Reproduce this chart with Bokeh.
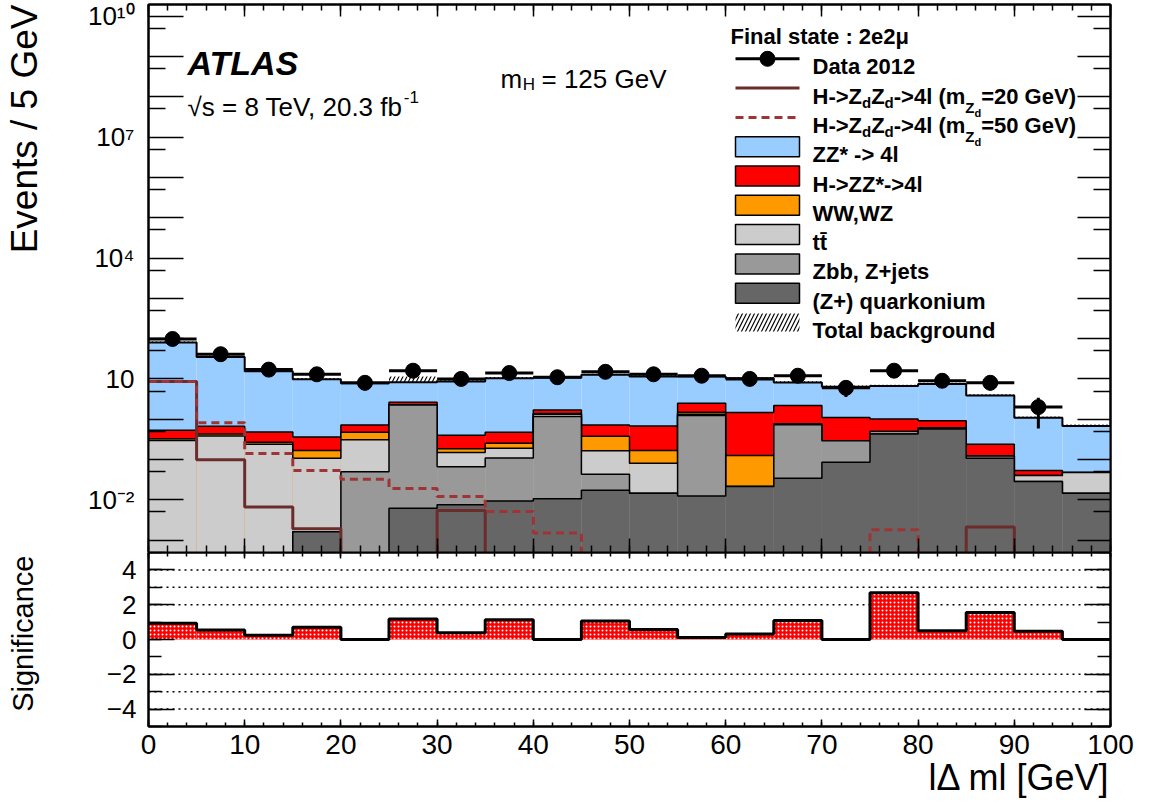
import numpy as np
from bokeh.plotting import figure
from bokeh.models import (Range1d, SingleIntervalTicker, FixedTicker, LinearAxis, LogAxis,
                          CustomJSTickFormatter, Label, Title)
from bokeh.layouts import column
from bokeh.embed import file_html
from bokeh.resources import INLINE

# ---------------- data ----------------
bin_edges = [0, 5, 10, 15, 20, 25, 30, 35, 40, 45, 50, 55, 60, 65, 70, 75, 80, 85, 90, 95, 100]
data_2012 = [98, 41, 17, 13, 8, 16, 10, 14, 11, 15, 13, 12, 10, 12, 6, 16, 9, 8, 2, 0]
bkg_quarkonium = [0, 0, 0, 0.0016, 0, 0.0062, 0.0075, 0.0094, 0.0106, 0.0173,
                  0.0146, 0.0125, 0.0213, 0.0344, 0.086, 0.43, 0.575, 0.108, 0.0284, 0.0146]
bkg_zbb_zjets = [0, 0, 0, 0, 0.050, 2.25, 0.059, 0.099, 1.15, 0.026,
                 0, 1.22, 0, 0.69, 0.204, 0, 0.02, 0.015, 0, 0]
bkg_ttbar = [0.295, 0.385, 0.24, 0.106, 0.257, 0.02, 0.083, 0.083, 0.17, 0.121,
             0.066, 0.10, 0, 0.03, 0, 0.065, 0.02, 0, 0.0116, 0.033]
bkg_ww_wz = [0.03, 0.047, 0.028, 0.059, 0.169, 0.02, 0.035, 0.063, 0.05, 0.215,
             0.086, 0.16, 0.104, 0.02, 0, 0, 0, 0, 0, 0]
bkg_h_zz = [0.21, 0.24, 0.21, 0.197, 0.246, 0.33, 0.216, 0.222, 0.32, 0.343,
            0.515, 1.01, 1.335, 1.4, 0.81, 0.51, 0.305, 0.117, 0.013, 0]
bkg_zz = [79.5, 34.3, 15.0, 9.44, 7.08, 5.67, 8.2, 9.92, 9.1, 11.88,
          10.8, 8.9, 8.94, 5.93, 5.3, 5.7, 6.58, 3.61, 1.027, 0.632]
bkg_total_unc = [5.0, 2.4, 1.1, 0.7, 0.6, 3.1, 0.6, 0.75, 1.0, 0.9,
                 0.8, 1.0, 0.75, 0.7, 0.5, 0.5, 0.5, 0.3, 0.09, 0.06]
sig_mzd20 = [8.6, 0.098, 0.0066, 0.0019, 0, 0, 0.0054, 0, 0, 0,
             0, 0, 0, 0, 0, 0, 0, 0.0021, 0, 0]
sig_mzd50 = [8.6, 0.82, 0.14, 0.053, 0.0325, 0.019, 0.012, 0.0051, 0.0015, 0,
             0, 0, 0, 0, 0, 0.0018, 0, 0, 0, 0]
significance = [0.93, 0.54, 0.25, 0.70, 0, 1.18, 0.39, 1.13, 0, 1.07,
                0.58, 0.12, 0.31, 1.09, 0, 2.68, 0.50, 1.55, 0.47, 0]
top_label_exponents = [10, 7, 4, 1, -2]
sig_ref_levels = [-4, -3, -2, 2, 3, 4]

# ---------------- styling / geometry ----------------
FONT = "Liberation Sans"
C_ZZ, C_HZZ, C_WW, C_TT, C_ZBB, C_QK = "#99ccff", "#ff0000", "#ff9900", "#cccccc", "#999999", "#666666"
C_S20, C_S50 = "#6b2c2c", "#9e3434"

W = 1150
FRAME_L, FRAME_R = 148, 1110          # canvas px
TOP_T, TOP_B = 4, 552
BOT_T, BOT_B = 552, 726
BOT_PAD = 79
DEC_PX = 40.3
Y10_PX = 15.7
FLOOR = 1e-5


def xd(px):
    return (px - FRAME_L) * 100.0 / (FRAME_R - FRAME_L)


def yt(py):
    return 10 ** (10 - (py - Y10_PX) / DEC_PX)


def yb(py):
    return 5 - (py - BOT_T) * 10.0 / (BOT_B - BOT_T)


def lab(p, x, y, text, size, style="normal", align="left", baseline="middle", angle=0.0):
    p.add_layout(Label(x=x, y=y, x_units="data", y_units="data", text=text,
                       text_font=FONT, text_font_size=f"{size}px", text_font_style=style,
                       text_align=align, text_baseline=baseline, angle=angle,
                       text_color="black"))


def style_axis(ax, maj_in, min_in, labels=False, size=26, standoff=10):
    ax.axis_line_width = 2
    ax.axis_line_color = "black"
    ax.major_tick_line_width = 1.5
    ax.minor_tick_line_width = 1.5
    ax.major_tick_in = maj_in
    ax.major_tick_out = 0
    ax.minor_tick_in = min_in
    ax.minor_tick_out = 0
    if labels:
        ax.major_label_text_font = FONT
        ax.major_label_text_font_size = f"{size}px"
        ax.major_label_standoff = standoff
        ax.major_label_text_color = "black"
    else:
        ax.formatter = CustomJSTickFormatter(code="return ''")
        ax.major_label_text_font_size = "0px"
        ax.major_label_standoff = 0


def spacer_axis(fig, cls, side, tick_value, width):
    """Invisible axis that only reserves `width` pixels between the axis and the title."""
    ax = cls(ticker=FixedTicker(ticks=[tick_value]))
    ax.axis_line_color = None
    ax.major_tick_line_color = None
    ax.minor_tick_line_color = None
    ax.major_tick_in = 0
    ax.major_tick_out = width
    ax.minor_tick_out = 0
    ax.formatter = CustomJSTickFormatter(code="return ''")
    ax.major_label_text_font_size = "0px"
    ax.major_label_standoff = 0
    fig.add_layout(ax, side)


def side_title(fig, side, text, size, valign, offset=0):
    fig.add_layout(Title(text=text, align="right", vertical_align=valign, offset=offset,
                         standoff=0, text_font=FONT, text_font_size=f"{size}px",
                         text_font_style="normal", text_color="black"), side)


edges = np.array(bin_edges, dtype=float)
left, right = edges[:-1], edges[1:]
centers = 0.5 * (left + right)

# ---------------- top panel ----------------
p1 = figure(width=W, height=TOP_B, x_range=Range1d(0, 100),
            y_range=Range1d(yt(TOP_B), yt(TOP_T)), y_axis_type="log",
            output_backend="svg", toolbar_location=None,
            min_border_left=FRAME_L, min_border_right=W - FRAME_R,
            min_border_top=TOP_T, min_border_bottom=0)
p1.grid.visible = False
p1.outline_line_color = "black"
p1.outline_line_width = 2
p1.background_fill_color = "white"
p1.border_fill_color = "white"

log_major = [10.0 ** k for k in range(-4, 11)]
log_minor = [5 * 10.0 ** k for k in range(-4, 10)]

p1.xaxis.ticker = SingleIntervalTicker(interval=10, num_minor_ticks=5)
style_axis(p1.xaxis[0], 14, 7)
p1.yaxis.ticker = FixedTicker(ticks=log_major, minor_ticks=log_minor)
style_axis(p1.yaxis[0], 35, 17, labels=True, size=26, standoff=14)
p1.yaxis.formatter = CustomJSTickFormatter(args=dict(exps=top_label_exponents), code="""
    const e = Math.round(Math.log10(tick));
    if (!exps.includes(e)) return '';
    if (e === 1) return '10';
    const sup = {'0':'\\u2070','1':'\\u00b9','2':'\\u00b2','3':'\\u00b3','4':'\\u2074',
                 '5':'\\u2075','6':'\\u2076','7':'\\u2077','8':'\\u2078','9':'\\u2079','-':'\\u207b'};
    return '10' + String(e).split('').map(c => sup[c]).join('');
""")
spacer_axis(p1, LogAxis, "left", 1.0, 40)
side_title(p1, "left", "Events / 5 GeV", 37, "bottom")
ax_top = LinearAxis(ticker=SingleIntervalTicker(interval=10, num_minor_ticks=5))
style_axis(ax_top, 12, 6)
p1.add_layout(ax_top, "above")
ax_right = LogAxis(ticker=FixedTicker(ticks=log_major, minor_ticks=log_minor))
style_axis(ax_right, 33, 17)
p1.add_layout(ax_right, "right")

# stack
layers = [(bkg_quarkonium, C_QK), (bkg_zbb_zjets, C_ZBB), (bkg_ttbar, C_TT),
          (bkg_ww_wz, C_WW), (bkg_h_zz, C_HZZ), (bkg_zz, C_ZZ)]
cum = np.cumsum(np.array([np.array(v, dtype=float) for v, _ in layers]), axis=0)
total = cum[-1]
unc = np.array(bkg_total_unc)

p1.quad(left=left, right=right, bottom=total - unc, top=total + unc,
        fill_alpha=0, line_alpha=0, hatch_pattern="/", hatch_color="black",
        hatch_scale=8, hatch_weight=1.2)

for k in range(len(layers) - 1, -1, -1):
    ck = np.maximum(cum[k], FLOOR)
    p1.quad(left=left, right=right, bottom=FLOOR, top=ck,
            fill_color=layers[k][1], line_alpha=0)
    p1.step(x=edges, y=np.append(ck, ck[-1]), mode="after", line_color="black",
            line_width=2 if k == len(layers) - 1 else 1.5)

s20 = np.maximum(np.array(sig_mzd20, float), FLOOR)
s50 = np.maximum(np.array(sig_mzd50, float), FLOOR)
p1.step(x=edges, y=np.append(s20, s20[-1]), mode="after", line_color=C_S20, line_width=3)
p1.step(x=edges, y=np.append(s50, s50[-1]), mode="after", line_color=C_S50, line_width=3,
        line_dash="8 5")

d = np.array(data_2012, dtype=float)
m = d > 0
err = np.sqrt(d[m])
p1.segment(x0=left[m], x1=right[m], y0=d[m], y1=d[m], line_color="black", line_width=3)
p1.segment(x0=centers[m], x1=centers[m], y0=d[m] - err, y1=d[m] + err,
           line_color="black", line_width=3)
p1.scatter(x=centers[m], y=d[m], size=15, marker="circle", color="black")

# ATLAS texts
lab(p1, xd(187), yt(62), "ATLAS", 34, style="bold italic", baseline="alphabetic")
REG = {'\u221a': 549, 's': 500, ' ': 278, '=': 584, '8': 556, 'T': 611, 'e': 556, 'V': 667,
       ',': 278, '2': 556, '0': 556, '.': 278, '3': 556, 'f': 278, 'b': 556}
txt = "\u221as = 8 TeV, 20.3 fb"
lab(p1, xd(187), yt(106), txt, 26, baseline="alphabetic")
wtxt = sum(REG[c] for c in txt) * 26 / 1000
lab(p1, xd(187 + wtxt - 4), yt(96), "-1", 17, baseline="alphabetic")

lab(p1, xd(500), yt(78), "m", 26, baseline="alphabetic")
lab(p1, xd(500 + 0.833 * 26 + 0.5), yt(84), "H", 17, baseline="alphabetic")
lab(p1, xd(541), yt(78), "= 125 GeV", 26, baseline="alphabetic")

# ---------------- legend ----------------
rows = [58.3 + 29.3 * i for i in range(10)]
SYM_L, SYM_R, TXT_X = 735, 799, 812
lab(p1, xd(730), yt(36), "Final state : 2e2\u03bc", 22, style="bold", baseline="alphabetic")

p1.segment(x0=[xd(SYM_L)], x1=[xd(SYM_R)], y0=[yt(rows[0])], y1=[yt(rows[0])],
           line_color="black", line_width=3)
p1.scatter(x=[xd((SYM_L + SYM_R) / 2)], y=[yt(rows[0])], size=15, marker="circle", color="black")
p1.line(x=[xd(SYM_L), xd(SYM_R)], y=[yt(rows[1])] * 2, line_color=C_S20, line_width=3)
p1.line(x=[xd(SYM_L), xd(SYM_R)], y=[yt(rows[2])] * 2, line_color=C_S50, line_width=3,
        line_dash="8 5")
box_cols = [C_ZZ, C_HZZ, C_WW, C_TT, C_ZBB, C_QK]
for i, c in enumerate(box_cols):
    r = rows[3 + i]
    p1.quad(left=[xd(SYM_L)], right=[xd(SYM_R)], bottom=[yt(r + 10)], top=[yt(r - 10)],
            fill_color=c, line_color="black", line_width=1.5)
r = rows[9]
p1.quad(left=[xd(SYM_L)], right=[xd(SYM_R)], bottom=[yt(r + 9)], top=[yt(r - 9)],
        fill_alpha=0, line_alpha=0, hatch_pattern="/", hatch_color="black",
        hatch_scale=8, hatch_weight=1.2)

BOLD = {'H': 722, '-': 333, '>': 584, 'Z': 611, 'd': 611, '4': 556, 'l': 278, ' ': 278,
        '(': 333, 'm': 889, '=': 584, '2': 556, '0': 556, '5': 556, 'G': 778, 'e': 556,
        'V': 667, ')': 333}


def rich_row(r, mass_text):
    base = r + 8
    pieces = [("H->Z", 22, 0), ("d", 15, 6.5), ("Z", 22, 0), ("d", 15, 6.5),
              ("->4l (m", 22, 0), ("Z", 15, 11.5), ("d", 11, 16.5), (mass_text, 22, 0)]
    x = TXT_X
    for s, size, dy in pieces:
        lab(p1, xd(x), yt(base + dy), s, size, style="bold", baseline="alphabetic")
        x += sum(BOLD[c] for c in s) * size / 1000.0


lab(p1, xd(TXT_X), yt(rows[0] + 8), "Data 2012", 22, style="bold", baseline="alphabetic")
rich_row(rows[1], "=20 GeV)")
rich_row(rows[2], "=50 GeV)")
simple = ["ZZ* -> 4l", "H->ZZ*->4l", "WW,WZ", "tt\u0304", "Zbb, Z+jets", "(Z+) quarkonium",
          "Total background"]
for i, s in enumerate(simple):
    lab(p1, xd(TXT_X), yt(rows[3 + i] + 8), s, 22, style="bold", baseline="alphabetic")

# ---------------- bottom panel ----------------
p2 = figure(width=W, height=(BOT_B - BOT_T) + BOT_PAD, x_range=Range1d(0, 100),
            y_range=Range1d(-5, 5), output_backend="svg", toolbar_location=None,
            min_border_left=FRAME_L, min_border_right=W - FRAME_R,
            min_border_top=0, min_border_bottom=BOT_PAD)
p2.grid.visible = False
p2.outline_line_color = "black"
p2.outline_line_width = 2
p2.background_fill_color = "white"
p2.border_fill_color = "white"

p2.xaxis.ticker = SingleIntervalTicker(interval=10, num_minor_ticks=5)
style_axis(p2.xaxis[0], 7, 4, labels=True, size=28, standoff=8)
p2.yaxis.ticker = SingleIntervalTicker(interval=2, num_minor_ticks=2)
style_axis(p2.yaxis[0], 26, 13, labels=True, size=26, standoff=12)
p2.yaxis.formatter = CustomJSTickFormatter(
    code="return tick < 0 ? '\\u2212' + Math.abs(tick).toFixed(0) : tick.toFixed(0)")
spacer_axis(p2, LinearAxis, "left", 0.0, 65)
side_title(p2, "left", "Significance", 29, "bottom", offset=3)
side_title(p2, "below", "l\u0394 ml [GeV]", 36, "top")
ax2_top = LinearAxis(ticker=SingleIntervalTicker(interval=10, num_minor_ticks=5))
style_axis(ax2_top, 6, 4)
p2.add_layout(ax2_top, "above")
ax2_right = LinearAxis(ticker=SingleIntervalTicker(interval=2, num_minor_ticks=2))
style_axis(ax2_right, 26, 13)
p2.add_layout(ax2_right, "right")

lv = np.array(sig_ref_levels, dtype=float)
p2.segment(x0=np.zeros_like(lv), x1=np.full_like(lv, 100), y0=lv, y1=lv,
           line_color="black", line_width=1.5, line_dash="2 4")
sg = np.array(significance, dtype=float)
p2.quad(left=left, right=right, bottom=0, top=sg, fill_color="#ff0000", line_alpha=0,
        hatch_pattern="dot", hatch_color="white", hatch_scale=4, hatch_weight=1.5)
p2.step(x=edges, y=np.append(sg, sg[-1]), mode="after", line_color="black", line_width=3)

layout = column(p1, p2)
open("out.html", "w").write(file_html(layout, INLINE))
